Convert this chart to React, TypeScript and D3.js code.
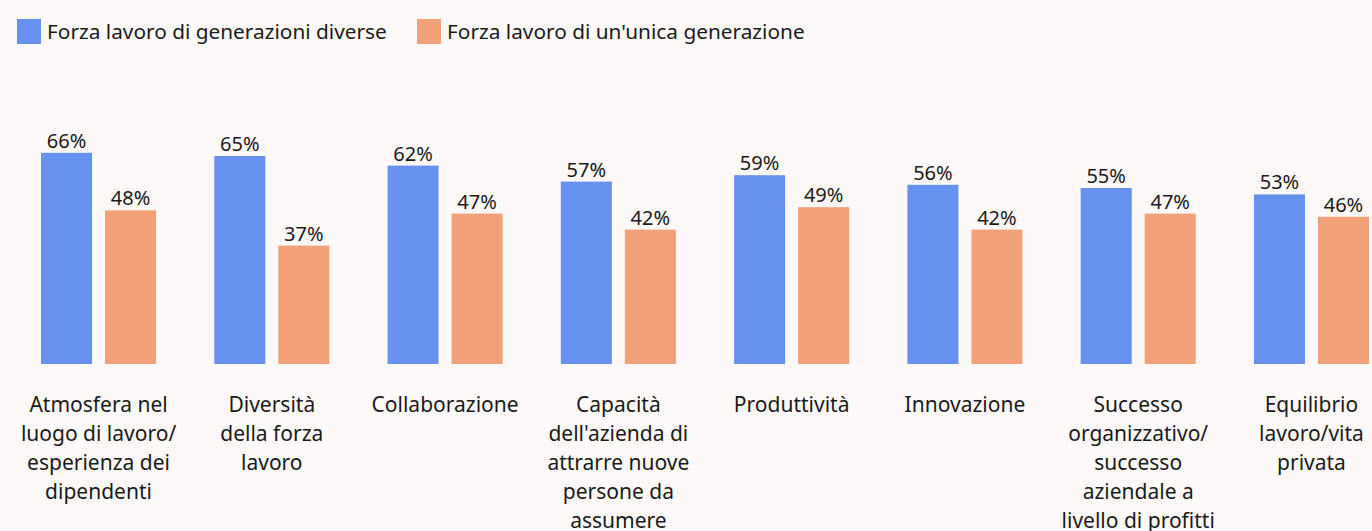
import React from "react";
import * as d3 from "d3";

const categories = [
  "Atmosfera nel luogo di lavoro/ esperienza dei dipendenti",
  "Diversità della forza lavoro",
  "Collaborazione",
  "Capacità dell'azienda di attrarre nuove persone da assumere",
  "Produttività",
  "Innovazione",
  "Successo organizzativo/ successo aziendale a livello di profitti",
  "Equilibrio lavoro/vita privata",
];

const categoryLines = [
  ["Atmosfera nel", "luogo di lavoro/", "esperienza dei", "dipendenti"],
  ["Diversità", "della forza", "lavoro"],
  ["Collaborazione"],
  ["Capacità", "dell'azienda di", "attrarre nuove", "persone da", "assumere"],
  ["Produttività"],
  ["Innovazione"],
  ["Successo", "organizzativo/", "successo", "aziendale a", "livello di profitti"],
  ["Equilibrio", "lavoro/vita", "privata"],
];

const seriesNames = ["Forza lavoro di generazioni diverse", "Forza lavoro di un'unica generazione"];
const multiGen = [66, 65, 62, 57, 59, 56, 55, 53];
const singleGen = [48, 37, 47, 42, 49, 42, 47, 46];

const colors = ["#6691EE", "#F2A078"];

const W = 1372;
const H = 531;
const FONT = "'Noto Sans', sans-serif";

export default function App() {
  const x0 = d3.scaleBand<string>().domain(categories).range([41, 1369]).paddingInner(0.336).paddingOuter(0);
  const x1 = d3.scaleBand<string>().domain(seriesNames).range([0, x0.bandwidth()]).paddingInner(0.203).paddingOuter(0);
  const y = d3.scaleLinear().domain([0, 100]).range([364, 44]);
  const series = [multiGen, singleGen];

  return (
    <svg width={W} height={H} style={{ position: "absolute", left: 0, top: 0, background: "#FDF9F8" }}>
      <rect x={0} y={0} width={W} height={H} fill="#FDF9F8" />
      {seriesNames.map((s, i) => {
        const lx = i === 0 ? 17 : 417;
        return (
          <g key={s}>
            <rect x={lx} y={19} width={24} height={25} fill={colors[i]} />
            <text x={lx + 30} y={38.5} fontFamily={FONT} fontSize={20.8} fill="#1a1a1a">
              {s}
            </text>
          </g>
        );
      })}
      {categories.map((c, ci) => (
        <g key={c} transform={`translate(${x0(c)},0)`}>
          {seriesNames.map((s, si) => {
            const v = series[si][ci];
            const bx = x1(s)!;
            const bw = x1.bandwidth();
            return (
              <g key={s}>
                <rect x={bx} y={y(v)} width={bw} height={y(0) - y(v)} fill={colors[si]} />
                <text
                  x={bx + bw / 2}
                  y={y(v) - 5}
                  textAnchor="middle"
                  fontFamily={FONT}
                  fontSize={20}
                  fill="#1a1a1a"
                >
                  {v}%
                </text>
              </g>
            );
          })}
          <text textAnchor="middle" fontFamily={FONT} fontSize={21} fill="#1a1a1a">
            {categoryLines[ci].map((ln, li) => (
              <tspan key={li} x={x0.bandwidth() / 2} y={412 + li * 29}>
                {ln}
              </tspan>
            ))}
          </text>
        </g>
      ))}
    </svg>
  );
}
